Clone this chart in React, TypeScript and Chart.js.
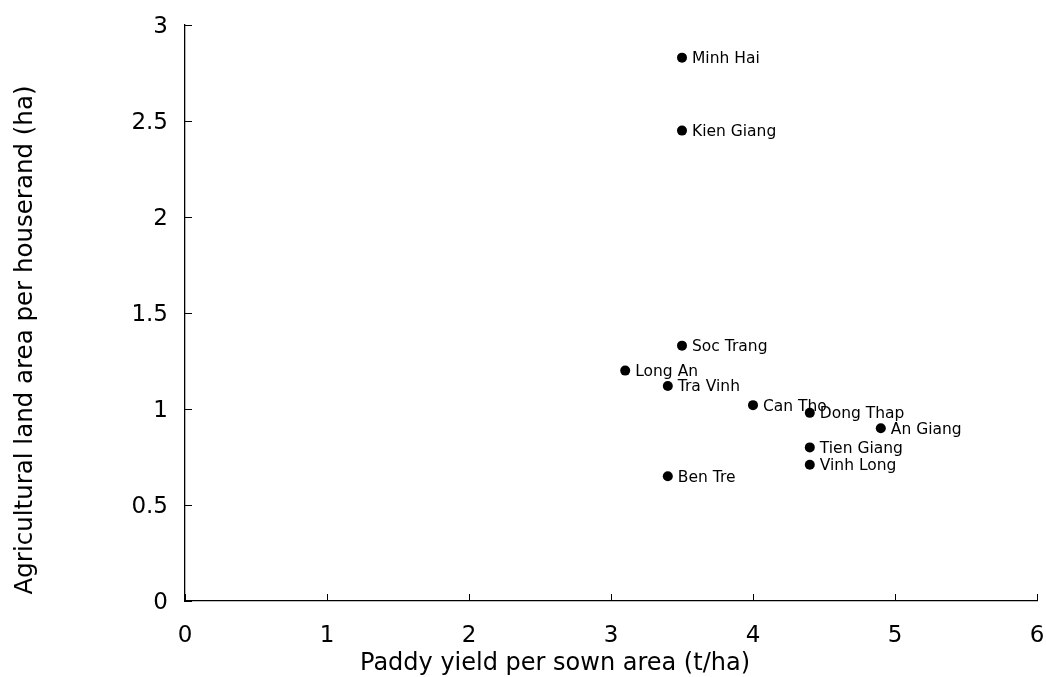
import React, { useEffect, useRef } from "react";
import { Chart, registerables } from "chart.js";

Chart.register(...registerables);

const provinces = [
  "Minh Hai", "Kien Giang", "Soc Trang", "Long An", "Tra Vinh", "Can Tho",
  "Dong Thap", "An Giang", "Tien Giang", "Vinh Long", "Ben Tre",
];
const paddyYield = [3.5, 3.5, 3.5, 3.1, 3.4, 4.0, 4.4, 4.9, 4.4, 4.4, 3.4];
const landPerHousehold = [2.83, 2.45, 1.33, 1.2, 1.12, 1.02, 0.98, 0.9, 0.8, 0.71, 0.65];
const xTickValues = [0, 1, 2, 3, 4, 5, 6];
const yTickValues = [0, 0.5, 1, 1.5, 2, 2.5, 3];
const xTitle = "Paddy yield per sown area (t/ha)";
const yTitle = "Agricultural land area per houserand (ha)";

const FONT = "'DejaVu Sans', 'Liberation Sans', Arial, sans-serif";

const innerTicksPlugin = {
  id: "innerTicks",
  afterDraw(chart: any) {
    const { ctx, chartArea } = chart;
    const xs = chart.scales.x;
    const ys = chart.scales.y;
    ctx.save();
    ctx.strokeStyle = "#000";
    ctx.lineWidth = 1;
    ctx.beginPath();
    xTickValues.forEach((v) => {
      const px = Math.round(xs.getPixelForValue(v)) + 0.5;
      ctx.moveTo(px, chartArea.bottom);
      ctx.lineTo(px, chartArea.bottom - 7);
    });
    yTickValues.forEach((v) => {
      const py = Math.round(ys.getPixelForValue(v)) + 0.5;
      ctx.moveTo(chartArea.left, py);
      ctx.lineTo(chartArea.left + 7, py);
    });
    ctx.stroke();
    ctx.restore();
  },
};

const pointLabelsPlugin = {
  id: "pointLabels",
  afterDatasetsDraw(chart: any) {
    const { ctx } = chart;
    const meta = chart.getDatasetMeta(0);
    ctx.save();
    ctx.fillStyle = "#000";
    ctx.font = `15.5px ${FONT}`;
    ctx.textAlign = "left";
    ctx.textBaseline = "alphabetic";
    meta.data.forEach((el: any, i: number) => {
      ctx.fillText(provinces[i], el.x + 10, el.y + 5.5);
    });
    ctx.restore();
  },
};

const axisTitlesPlugin = {
  id: "axisTitles",
  afterDraw(chart: any) {
    const { ctx } = chart;
    ctx.save();
    ctx.fillStyle = "#000";
    ctx.font = `24px ${FONT}`;
    ctx.textAlign = "center";
    ctx.textBaseline = "alphabetic";
    ctx.fillText(xTitle, 555, 670);
    ctx.font = `24.5px ${FONT}`;
    ctx.translate(32, 340);
    ctx.rotate(-Math.PI / 2);
    ctx.fillText(yTitle, 0, 0);
    ctx.restore();
  },
};

export default function App() {
  const canvasRef = useRef<HTMLCanvasElement | null>(null);

  useEffect(() => {
    if (!canvasRef.current) return;
    const chart = new Chart(canvasRef.current, {
      type: "scatter",
      data: {
        datasets: [
          {
            label: "Provinces",
            data: paddyYield.map((x, i) => ({ x, y: landPerHousehold[i] })),
            backgroundColor: "#000",
            borderColor: "#000",
            pointRadius: 5,
            pointHoverRadius: 5,
            pointBorderWidth: 0,
          },
        ],
      },
      options: {
        animation: false,
        responsive: true,
        maintainAspectRatio: false,
        layout: { padding: { left: 0, right: 9, top: 25, bottom: 0 } },
        plugins: {
          legend: { display: false },
          tooltip: { enabled: false },
        },
        scales: {
          x: {
            type: "linear",
            min: 0,
            max: 6,
            afterBuildTicks: (scale: any) => {
              scale.ticks = xTickValues.map((value) => ({ value }));
            },
            afterFit: (scale: any) => {
              scale.height = 76;
              scale.paddingLeft = 0;
              scale.paddingRight = 0;
            },
            grid: { display: false, drawTicks: false },
            border: { display: true, color: "#000", width: 1.3 },
            ticks: {
              color: "#000",
              padding: 21,
              maxRotation: 0,
              font: { family: FONT, size: 23 },
              callback: (v: any) => String(v),
            },
          },
          y: {
            type: "linear",
            min: 0,
            max: 3,
            afterBuildTicks: (scale: any) => {
              scale.ticks = yTickValues.map((value) => ({ value }));
            },
            afterFit: (scale: any) => {
              scale.width = 185;
              scale.paddingTop = 0;
              scale.paddingBottom = 0;
            },
            grid: { display: false, drawTicks: false },
            border: { display: true, color: "#000", width: 1.3 },
            ticks: {
              color: "#000",
              padding: 17,
              labelOffset: 2,
              font: { family: FONT, size: 23 },
              callback: (v: any) => String(v),
            },
          },
        },
      },
      plugins: [innerTicksPlugin, pointLabelsPlugin, axisTitlesPlugin],
    });
    return () => chart.destroy();
  }, []);

  return (
    <div
      style={{
        position: "fixed",
        left: 0,
        top: 0,
        width: 1046,
        height: 677,
        background: "#fff",
      }}
    >
      <canvas ref={canvasRef} />
    </div>
  );
}
